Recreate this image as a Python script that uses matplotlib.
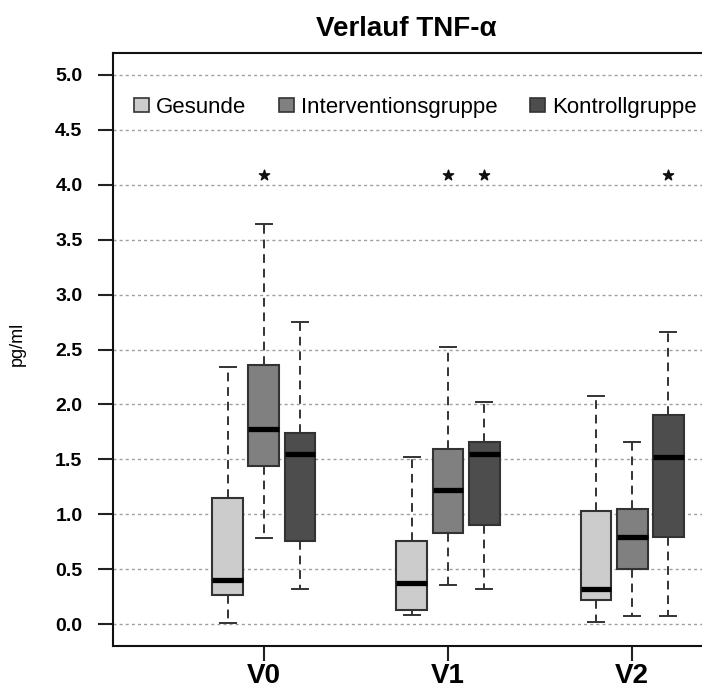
import matplotlib
matplotlib.use("Agg")
import matplotlib.pyplot as plt
from matplotlib.patches import Patch

plt.rcParams['font.family'] = ['Liberation Sans', 'DejaVu Sans']

visits = ["V0", "V1", "V2"]
groups = ["Gesunde", "Interventionsgruppe", "Kontrollgruppe"]
colors = ["#cccccc", "#808080", "#4d4d4d"]

# per group: values for V0, V1, V2
gesunde_whislo = [0.01, 0.08, 0.02]
gesunde_q1 = [0.26, 0.13, 0.22]
gesunde_med = [0.40, 0.37, 0.32]
gesunde_q3 = [1.15, 0.76, 1.03]
gesunde_whishi = [2.34, 1.52, 2.08]

interv_whislo = [0.78, 0.36, 0.07]
interv_q1 = [1.44, 0.83, 0.50]
interv_med = [1.78, 1.22, 0.79]
interv_q3 = [2.36, 1.59, 1.05]
interv_whishi = [3.64, 2.52, 1.66]

kontr_whislo = [0.32, 0.32, 0.07]
kontr_q1 = [0.76, 0.90, 0.79]
kontr_med = [1.55, 1.55, 1.52]
kontr_q3 = [1.74, 1.66, 1.90]
kontr_whishi = [2.75, 2.02, 2.66]

# significance markers: (visit index, group index), height
stars = [(0, 1), (1, 1), (1, 2), (2, 2)]
star_y = 4.09

yticks = [0.0, 0.5, 1.0, 1.5, 2.0, 2.5, 3.0, 3.5, 4.0, 4.5, 5.0]

series = [
    (gesunde_whislo, gesunde_q1, gesunde_med, gesunde_q3, gesunde_whishi),
    (interv_whislo, interv_q1, interv_med, interv_q3, interv_whishi),
    (kontr_whislo, kontr_q1, kontr_med, kontr_q3, kontr_whishi),
]

W, H = 702, 688
fig = plt.figure(figsize=(W / 100, H / 100), dpi=100)
ax = fig.add_axes([113 / W, (H - 646) / H, 670 / W, (646 - 53) / H])

offsets = [-0.196, 0.0, 0.196]
box_w = 0.168
edge = "#333333"

ax.set_xlim(0.18, 3.82)
ax.set_ylim(-0.2, 5.2)
for y in yticks:
    ax.axhline(y, color="#a0a0a0", lw=1.0, ls=(0, (2.2, 2.2)), zorder=0)

for gi, (wl, q1, md, q3, wh) in enumerate(series):
    stats = []
    for vi in range(len(visits)):
        stats.append(dict(whislo=wl[vi], q1=q1[vi], med=md[vi], q3=q3[vi],
                          whishi=wh[vi], fliers=[]))
    pos = [vi + 1 + offsets[gi] for vi in range(len(visits))]
    ax.bxp(stats, positions=pos, widths=box_w, patch_artist=True,
           showfliers=False, capwidths=box_w * 0.5,
           boxprops=dict(facecolor=colors[gi], edgecolor=edge, linewidth=1.5),
           medianprops=dict(color="black", linewidth=3.8, solid_capstyle="butt"),
           whiskerprops=dict(color=edge, linewidth=1.4, linestyle=(0, (4.5, 3))),
           capprops=dict(color=edge, linewidth=1.4),
           manage_ticks=False, zorder=2)

sx = [s[0] + 1 + offsets[s[1]] for s in stars]
ax.scatter(sx, [star_y] * len(sx), marker="*", s=60, color="#111111", zorder=3)

ax.set_yticks(yticks)
ax.set_yticklabels([f"{v:.1f}" for v in yticks], fontsize=14, fontweight="bold")
ax.set_xticks([1, 2, 3])
ax.set_xticklabels(visits, fontsize=20, fontweight="bold")
ax.tick_params(axis="both", length=11, width=1.5, color="#222222")
ax.tick_params(axis="y", pad=11)
ax.tick_params(axis="x", pad=1)
for side in ["left", "top", "bottom", "right"]:
    ax.spines[side].set_linewidth(1.5)
    ax.spines[side].set_color("#111111")
ax.set_ylabel("pg/ml", fontsize=13)
ax.yaxis.set_label_coords(-87 / 670, 0.51)

handles = [Patch(facecolor=c, edgecolor=edge, linewidth=1.2) for c in colors]
ax.legend(handles, groups, ncol=3, loc="upper left",
          bbox_to_anchor=(134 / W, (H - 97) / H), bbox_transform=fig.transFigure,
          frameon=False, fontsize=16, handlelength=0.68, handleheight=0.6,
          handletextpad=0.32, columnspacing=1.45, borderpad=0, borderaxespad=0)

fig.text(406 / W, 1 - 29 / H, "Verlauf TNF-α", ha="center", va="center",
         fontsize=20, fontweight="bold")

fig.savefig("out.png", dpi=100)
